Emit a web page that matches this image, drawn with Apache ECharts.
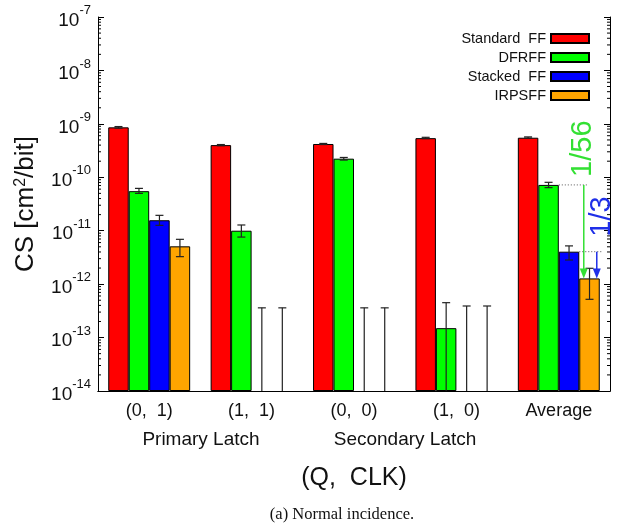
<!DOCTYPE html>
<html>
<head>
<meta charset="utf-8">
<script src="https://cdn.jsdelivr.net/npm/echarts@6/dist/echarts.min.js"></script>
<style>
  html, body { margin: 0; padding: 0; background: #fff; }
  #chart { width: 621px; height: 527px; }
</style>
</head>
<body>
<div id="chart"></div>
<script>
const categories = ['(0,  1)', '(1,  1)', '(0,  0)', '(1,  0)', 'Average']
const seriesNames = ['Standard  FF', 'DFRFF', 'Stacked  FF', 'IRPSFF']
const colors = ['#ff0000', '#00ff00', '#0000ff', '#ffa500']

// cross sections [cm^2/bit], null = no error observed
const standardFF = [8.6e-10, 4.0e-10, 4.2e-10, 5.4e-10, 5.5e-10]
const dfrff = [5.5e-11, 1.0e-11, 2.23e-10, 1.5e-13, 7.2e-11]
const stackedFF = [1.57e-11, null, null, null, 4.05e-12]
const irpsff = [5.1e-12, null, null, null, 1.28e-12]

// error bars [low, high], low null = down to the axis
const standardErr = [[8.3e-10, 8.9e-10], [3.9e-10, 4.1e-10], [4.1e-10, 4.3e-10], [5.3e-10, 5.6e-10], [5.4e-10, 5.7e-10]]
const dfrffErr = [[5.0e-11, 6.2e-11], [7.6e-12, 1.28e-11], [2.1e-10, 2.35e-10], [null, 4.5e-13], [6.4e-11, 8.05e-11]]
const stackedErr = [[1.26e-11, 1.94e-11], [null, 3.6e-13], [null, 3.6e-13], [null, 3.9e-13], [2.83e-12, 5.2e-12]]
const irpsffErr = [[3.27e-12, 6.9e-12], [null, 3.6e-13], [null, 3.6e-13], [null, 3.9e-13], [5.2e-13, 1.98e-12]]

const yTickExponents = [-14, -13, -12, -11, -10, -9, -8, -7]
const groupLabels = ['Primary Latch', 'Secondary Latch']

// ratio annotations on the Average group (against IRPSFF)
const ratioLabels = ['1/56', '1/3']
const ratioFrom = [1, 2]
const ratioColors = ['#33e033', '#1f2fe8']

const LOG_MIN = yTickExponents[0]
const LOG_MAX = yTickExponents[yTickExponents.length - 1]
const toAxis = v => v == null ? '-' : Math.log10(v) - LOG_MIN

const values = [standardFF, dfrff, stackedFF, irpsff]
const errors = [standardErr, dfrffErr, stackedErr, irpsffErr]

const FONT = '"Liberation Sans", Arial, sans-serif'

const chart = echarts.init(document.getElementById('chart'), null, { renderer: 'canvas' })

const errData = []
errors.forEach((list, s) => {
  list.forEach((e, c) => {
    errData.push([c, s, e[0] == null ? 0 : toAxis(e[0]), toAxis(e[1]), e[0] == null ? 0 : 1])
  })
})

const minorData = []
for (let k = LOG_MIN; k < LOG_MAX; k++) {
  for (let m = 2; m <= 9; m++) minorData.push([0, Math.log10(m * Math.pow(10, k)) - LOG_MIN])
}

const ratioData = ratioLabels.map((l, i) => [4, ratioFrom[i], toAxis(values[ratioFrom[i]][4]), toAxis(irpsff[4]), i])

const barWidthOf = params => params.coordSys.width / categories.length * 0.8 / 4

const option = {
  animation: false,
  textStyle: { fontFamily: FONT },
  grid: { left: 98, right: 11, top: 17, bottom: 136, containLabel: false },
  legend: {
    orient: 'vertical',
    right: 26,
    top: 26,
    align: 'right',
    icon: 'rect',
    itemWidth: 38,
    itemHeight: 9,
    itemGap: 4,
    textStyle: { fontSize: 14.5, color: '#111', fontFamily: FONT },
    data: seriesNames
  },
  xAxis: [{
    type: 'category',
    data: categories,
    position: 'bottom',
    axisLine: { lineStyle: { color: '#000', width: 1 } },
    axisTick: { alignWithLabel: true, inside: true, length: 6, lineStyle: { color: '#000' } },
    axisLabel: { fontSize: 18, color: '#111', margin: 11, fontFamily: FONT },
    name: '(Q,  CLK)',
    nameLocation: 'middle',
    nameGap: 75,
    nameTextStyle: { fontSize: 25, color: '#111', fontFamily: FONT }
  }, {
    type: 'category',
    data: categories,
    position: 'top',
    axisLine: { lineStyle: { color: '#000', width: 1 } },
    axisTick: { alignWithLabel: true, inside: true, length: 6, lineStyle: { color: '#000' } },
    axisLabel: { show: false }
  }],
  yAxis: [{
    type: 'value',
    min: 0,
    max: LOG_MAX - LOG_MIN,
    interval: 1,
    position: 'left',
    splitLine: { show: false },
    axisLine: { show: true, lineStyle: { color: '#000', width: 1 } },
    axisTick: { show: true, inside: true, length: 6, lineStyle: { color: '#000' } },
    axisLabel: {
      margin: 7,
      color: '#111',
      formatter: v => '{b|10}{sup|' + (v + LOG_MIN) + '}',
      rich: {
        b: { fontSize: 19, lineHeight: 26, verticalAlign: 'bottom', fontFamily: FONT, color: '#111' },
        sup: { fontSize: 13, lineHeight: 26, verticalAlign: 'top', fontFamily: FONT, color: '#111' }
      }
    },
    name: 'CS [cm{sup|2}/bit]',
    nameLocation: 'middle',
    nameRotate: 90,
    nameGap: 59,
    nameTextStyle: {
      fontSize: 26, color: '#111', fontFamily: FONT,
      rich: { sup: { fontSize: 16, verticalAlign: 'top', color: '#111', fontFamily: FONT } }
    }
  }, {
    type: 'value',
    min: 0,
    max: LOG_MAX - LOG_MIN,
    interval: 1,
    position: 'right',
    splitLine: { show: false },
    axisLine: { show: true, lineStyle: { color: '#000', width: 1 } },
    axisTick: { show: true, inside: true, length: 6, lineStyle: { color: '#000' } },
    axisLabel: { show: false }
  }],
  series: [
    ...seriesNames.map((name, s) => ({
      name,
      type: 'bar',
      barGap: 0,
      barCategoryGap: '20%',
      data: values[s].map(toAxis),
      itemStyle: { color: colors[s], borderColor: '#000', borderWidth: 1 },
      z: 2
    })),
    {
      name: 'errors',
      type: 'custom',
      z: 5,
      silent: true,
      data: errData,
      renderItem: (params, api) => {
        const cat = api.value(0)
        const s = api.value(1)
        const barW = barWidthOf(params)
        const cx = api.coord([cat, 0])[0] + (s - 1.5) * barW
        const yl = api.coord([cat, api.value(2)])[1]
        const yh = api.coord([cat, api.value(3)])[1]
        const style = { stroke: '#222', lineWidth: 1.2 }
        const children = [
          { type: 'line', shape: { x1: cx, y1: yl, x2: cx, y2: yh }, style },
          { type: 'line', shape: { x1: cx - 4, y1: yh, x2: cx + 4, y2: yh }, style }
        ]
        if (api.value(4)) children.push({ type: 'line', shape: { x1: cx - 4, y1: yl, x2: cx + 4, y2: yl }, style })
        return { type: 'group', children }
      }
    },
    {
      name: 'minorTicks',
      type: 'custom',
      z: 5,
      silent: true,
      data: minorData,
      renderItem: (params, api) => {
        const y = api.coord([0, api.value(1)])[1]
        const x0 = params.coordSys.x
        const x1 = x0 + params.coordSys.width
        const style = { stroke: '#000', lineWidth: 1 }
        return {
          type: 'group',
          children: [
            { type: 'line', shape: { x1: x0, y1: y, x2: x0 + 3, y2: y }, style },
            { type: 'line', shape: { x1: x1, y1: y, x2: x1 - 3, y2: y }, style }
          ]
        }
      }
    },
    {
      name: 'ratios',
      type: 'custom',
      z: 6,
      silent: true,
      data: ratioData,
      renderItem: (params, api) => {
        const i = api.value(4)
        const from = api.value(1)
        const color = ratioColors[i]
        const barW = barWidthOf(params)
        const cx = api.coord([4, 0])[0]
        const fromRight = cx + (from - 1.5) * barW + barW / 2
        const orangeLeft = cx + barW
        const ax = i === 0 ? orangeLeft + 4.5 : orangeLeft + 17.5
        const yFrom = api.coord([4, api.value(2)])[1]
        const yTo = api.coord([4, api.value(3)])[1]
        const textDx = i === 0 ? -1 : 5
        const textDy = i === 0 ? 8 : 15
        return {
          type: 'group',
          children: [
            { type: 'line', shape: { x1: fromRight, y1: yFrom, x2: ax + 5, y2: yFrom }, style: { stroke: '#555', lineWidth: 1, lineDash: [1, 2] } },
            { type: 'line', shape: { x1: ax, y1: yFrom, x2: ax, y2: yTo - 8 }, style: { stroke: color, lineWidth: 1.5 } },
            { type: 'polygon', shape: { points: [[ax - 4, yTo - 10], [ax + 4, yTo - 10], [ax, yTo]] }, style: { fill: color } },
            {
              type: 'text',
              x: ax + textDx,
              y: yFrom - textDy,
              rotation: Math.PI / 2,
              style: { text: ratioLabels[i], fill: color, font: '29px ' + FONT, align: 'left', verticalAlign: 'middle' }
            }
          ]
        }
      }
    }
  ],
  graphic: [
    { type: 'text', x: 201, y: 440, style: { text: groupLabels[0], font: '19px ' + FONT, fill: '#111', align: 'center', verticalAlign: 'middle' } },
    { type: 'text', x: 405, y: 440, style: { text: groupLabels[1], font: '19px ' + FONT, fill: '#111', align: 'center', verticalAlign: 'middle' } },
    { type: 'text', x: 342, y: 515, style: { text: '(a) Normal incidence.', font: '16.5px "Liberation Serif", "Times New Roman", serif', fill: '#111', align: 'center', verticalAlign: 'middle' } }
  ]
}

chart.setOption(option)
</script>
</body>
</html>
